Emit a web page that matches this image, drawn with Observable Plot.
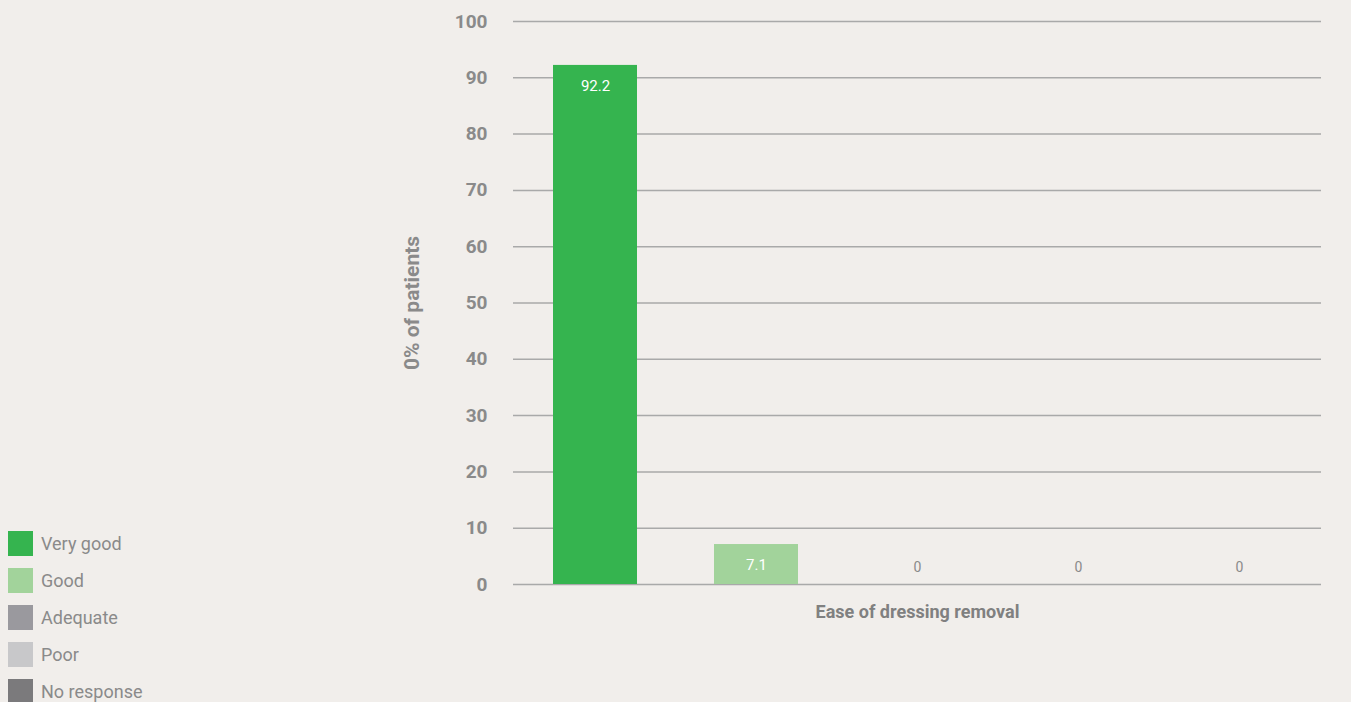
<!DOCTYPE html>
<html><head><meta charset="utf-8">
<script src="https://cdn.jsdelivr.net/npm/d3@7"></script>
<script src="https://cdn.jsdelivr.net/npm/@observablehq/plot@0.6"></script>
<style>
html,body{margin:0;padding:0;background:#f1eeeb;overflow:hidden}
#wrap{position:relative;width:1351px;height:702px;font-family:Roboto,sans-serif}
#chart{position:absolute;left:0;top:0}
#legend{position:absolute;left:8px;top:531px}
.item{display:flex;align-items:center;height:25px;margin-bottom:12px;font-size:18px;color:#8a8a8a}
.sw{width:25px;height:25px;margin-right:8px;flex:none}
</style></head><body><div id="wrap"><div id="chart"></div><div id="legend"></div></div>
<script>
const groupName = "Ease of dressing removal";
const categories = ["Very good", "Good", "Adequate", "Poor", "No response"];
const values = [92.2, 7.1, 0, 0, 0];
const colors = ["#35b44f", "#a2d39b", "#9a999e", "#c8c8ca", "#7b7a7c"];
const yTicks = [0, 10, 20, 30, 40, 50, 60, 70, 80, 90, 100];
const yLabel = "0% of patients";

const data = categories.map((c, i) => ({group: groupName, category: c, value: values[i]}));

const chart = Plot.plot({
  width: 1351, height: 702,
  marginLeft: 513, marginRight: 30, marginTop: 21, marginBottom: 118,
  style: {background: "transparent", fontFamily: "Roboto, sans-serif"},
  fx: {domain: [groupName], padding: 0, label: null, axis: null},
  x: {domain: categories, paddingInner: 0.48, paddingOuter: 0.24, axis: null},
  y: {domain: [0, 100], axis: null},
  color: {domain: categories, range: colors},
  marks: [
    Plot.ruleY(yTicks, {stroke: "#a9a9a9", strokeWidth: 1.5}),
    Plot.barY(data, {fx: "group", x: "category", y: "value", fill: "category"}),
    Plot.text(data.filter(d => d.value > 0), {fx: "group", x: "category", y: "value", text: d => d.value.toFixed(1), dy: 21, fill: "white", fontSize: 15}),
    Plot.text(data.filter(d => d.value === 0), {fx: "group", x: "category", y: "value", text: d => String(d.value), dy: -17, fill: "#8a8a8a", fontSize: 14}),
    Plot.axisY({ticks: yTicks, tickSize: 0, tickPadding: 26, fontSize: 19, fontWeight: 700, color: "#8a8a8a", label: null}),
    Plot.text([yLabel], {frameAnchor: "left", textAnchor: "middle", rotate: -90, dx: -101, fontSize: 21, fontWeight: 700, fill: "#8a8a8a"}),
    Plot.axisFx({anchor: "bottom", tickSize: 0, tickPadding: 21, fontSize: 18, fontWeight: 700, color: "#808080", label: null})
  ]
});
document.getElementById("chart").appendChild(chart);

const legend = document.getElementById("legend");
categories.forEach((c, i) => {
  const item = document.createElement("div");
  item.className = "item";
  const sw = document.createElement("div");
  sw.className = "sw";
  sw.style.background = colors[i];
  const t = document.createElement("span");
  t.textContent = c;
  item.appendChild(sw); item.appendChild(t);
  legend.appendChild(item);
});
</script>
</body></html>
